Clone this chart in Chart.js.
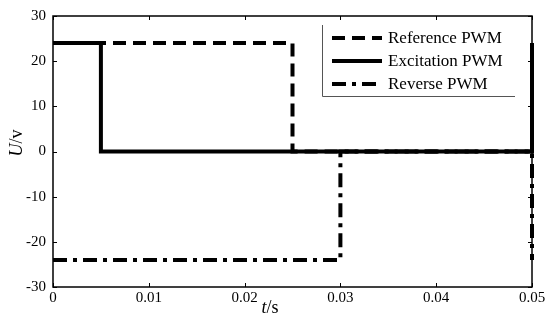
<!DOCTYPE html>
<html lang="en">
<head>
    <meta charset="UTF-8">
    <title>PWM signals</title>
    <style>
        body {
            margin: 0;
            padding: 0;
            background: #fff;
        }
        canvas {
            display: block;
        }
    </style>
</head>
<body>
    <canvas id="pwmChart" width="556" height="320"></canvas>

    <script src="https://cdn.jsdelivr.net/npm/chart.js"></script>
    <script>
        // data (t in s, U in V)
        const seriesNames = ['Reference PWM', 'Excitation PWM', 'Reverse PWM'];
        const refT = [0, 0.025, 0.025, 0.05, 0.05];
        const refU = [24, 24, 0, 0, 24];
        const excT = [0, 0.005, 0.005, 0.05, 0.05];
        const excU = [24, 24, 0, 0, 24];
        const revT = [0, 0.03, 0.03, 0.05, 0.05];
        const revU = [-24, -24, 0, 0, -24];
        const xTicks = [0, 0.01, 0.02, 0.03, 0.04, 0.05];
        const yTicks = [-30, -20, -10, 0, 10, 20, 30];

        const dashes = [[13, 7], [], [14, 6, 4, 6]];

        function toPoints(ts, us) {
            return ts.map((t, i) => ({ x: t, y: us[i] }));
        }

        // frame, inward ticks, legend and axis titles
        const decorPlugin = {
            id: 'decor',
            afterDraw(chart) {
                const ctx = chart.ctx;
                const a = chart.chartArea;
                const xs = chart.scales.x;
                const ys = chart.scales.y;
                ctx.save();
                ctx.strokeStyle = '#000';
                ctx.lineWidth = 1.5;
                ctx.strokeRect(a.left, a.top, a.right - a.left, a.bottom - a.top);

                ctx.lineWidth = 1;
                ctx.beginPath();
                xTicks.forEach(v => {
                    const px = Math.round(xs.getPixelForValue(v)) + 0.5;
                    ctx.moveTo(px, a.bottom); ctx.lineTo(px, a.bottom - 4);
                    ctx.moveTo(px, a.top); ctx.lineTo(px, a.top + 4);
                });
                yTicks.forEach(v => {
                    const py = Math.round(ys.getPixelForValue(v)) + 0.5;
                    ctx.moveTo(a.left, py); ctx.lineTo(a.left + 4, py);
                    ctx.moveTo(a.right, py); ctx.lineTo(a.right - 4, py);
                });
                ctx.stroke();

                // legend box (only left and bottom edges show in the figure)
                const lx = 322, ly = 25, lr = 515, lb = 96;
                ctx.strokeStyle = '#555';
                ctx.lineWidth = 1;
                ctx.beginPath();
                ctx.moveTo(lx + 0.5, ly);
                ctx.lineTo(lx + 0.5, lb + 0.5);
                ctx.lineTo(lr, lb + 0.5);
                ctx.stroke();

                const rows = [38, 61, 84];
                ctx.font = '17px "Liberation Serif"';
                ctx.textBaseline = 'middle';
                ctx.fillStyle = '#000';
                seriesNames.forEach((name, i) => {
                    ctx.strokeStyle = '#000';
                    ctx.lineWidth = 4;
                    ctx.setLineDash(dashes[i]);
                    ctx.beginPath();
                    ctx.moveTo(332, rows[i]);
                    ctx.lineTo(382, rows[i]);
                    ctx.stroke();
                    ctx.setLineDash([]);
                    ctx.fillText(name, 388, rows[i] + 1);
                });

                // axis titles with italic symbol
                ctx.textBaseline = 'alphabetic';
                const italic = 'italic 18px "Liberation Serif"';
                const upright = '18px "Liberation Serif"';
                ctx.font = italic;
                const tw = ctx.measureText('t').width;
                ctx.font = upright;
                const sw = ctx.measureText('/s').width;
                let x0 = 270 - (tw + sw) / 2;
                ctx.font = italic;
                ctx.fillText('t', x0, 313);
                ctx.font = upright;
                ctx.fillText('/s', x0 + tw, 313);

                ctx.translate(22, 143);
                ctx.rotate(-Math.PI / 2);
                ctx.font = italic;
                const uw = ctx.measureText('U').width;
                ctx.font = upright;
                const vw = ctx.measureText('/v').width;
                x0 = -(uw + vw) / 2;
                ctx.font = italic;
                ctx.fillText('U', x0, 0);
                ctx.font = upright;
                ctx.fillText('/v', x0 + uw, 0);
                ctx.restore();
            }
        };

        const datasets = [
            { label: seriesNames[0], data: toPoints(refT, refU), borderDash: dashes[0] },
            { label: seriesNames[1], data: toPoints(excT, excU), borderDash: dashes[1] },
            { label: seriesNames[2], data: toPoints(revT, revU), borderDash: dashes[2] }
        ].map(d => Object.assign(d, {
            showLine: true,
            borderColor: '#000',
            borderWidth: 4,
            pointRadius: 0,
            tension: 0,
            clip: false
        }));

        new Chart(document.getElementById('pwmChart'), {
            type: 'scatter',
            data: { datasets: datasets },
            options: {
                responsive: false,
                animation: false,
                devicePixelRatio: 1,
                layout: { padding: { top: 14, right: 24, left: 0, bottom: 0 } },
                plugins: {
                    legend: { display: false },
                    tooltip: { enabled: false }
                },
                scales: {
                    x: {
                        type: 'linear',
                        min: 0,
                        max: 0.05,
                        afterFit: s => { s.height = 33; },
                        afterBuildTicks: s => { s.ticks = xTicks.map(v => ({ value: v })); },
                        grid: { display: false, drawTicks: false },
                        border: { display: false },
                        ticks: {
                            padding: 2,
                            color: '#000',
                            font: { family: 'Liberation Serif', size: 15 },
                            maxRotation: 0,
                            callback: v => v === 0 ? '0' : v.toFixed(2)
                        }
                    },
                    y: {
                        type: 'linear',
                        min: -30,
                        max: 30,
                        afterFit: s => { s.width = 53; },
                        afterBuildTicks: s => { s.ticks = yTicks.map(v => ({ value: v })); },
                        grid: { display: false, drawTicks: false },
                        border: { display: false },
                        ticks: {
                            padding: 7,
                            color: '#000',
                            font: { family: 'Liberation Serif', size: 15 }
                        }
                    }
                }
            },
            plugins: [decorPlugin]
        });
    </script>
</body>
</html>
